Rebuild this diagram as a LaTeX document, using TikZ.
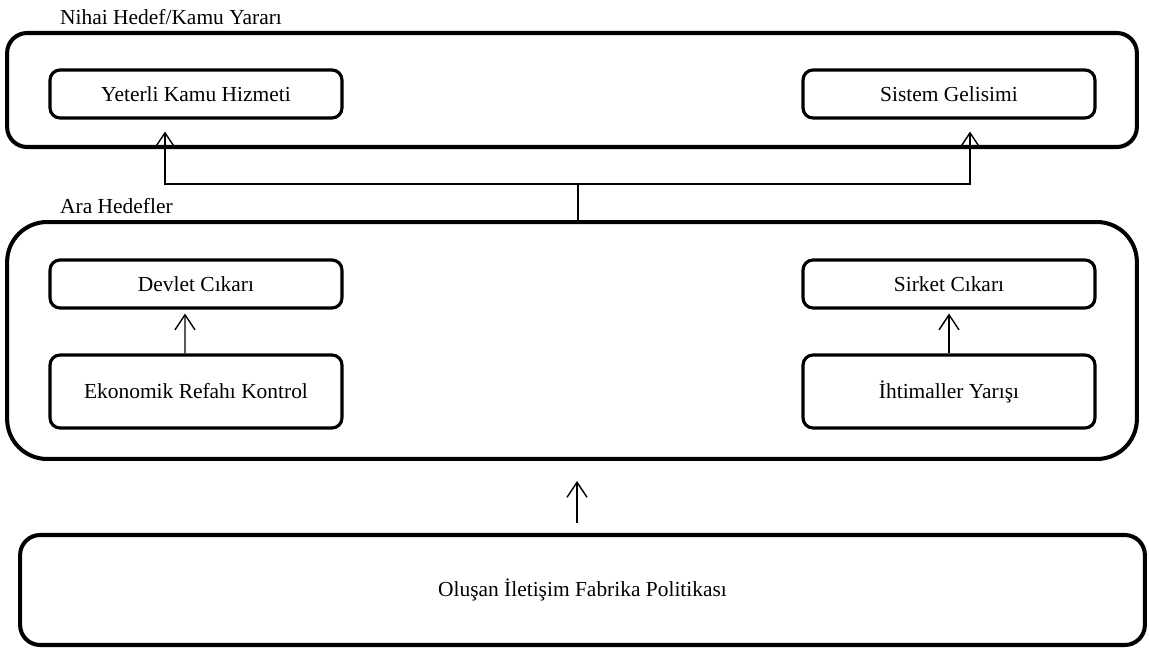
\documentclass[tikz,border=0pt]{standalone}
\usepackage{fontspec}
\setmainfont{Liberation Serif}
\usetikzlibrary{arrows.meta}
\begin{document}
\begin{tikzpicture}[x=0.02cm,y=-0.02cm,font=\fontsize{12.2}{14}\selectfont,
bigbox/.style={draw,line width=2.3pt,rounded corners=0.4cm},
smallbox/.style={draw,line width=1.8pt,rounded corners=0.2cm,minimum width=5.84cm},
link/.style={line width=.8pt,-{Straight Barb[length=0.3cm,width=0.4cm,line width=.8pt]}}]
\useasboundingbox (0,0) rectangle (1149,648);
\node[bigbox,minimum width=22.6cm,minimum height=2.28cm] (nihai) at (572,90) {};
\node[bigbox,rounded corners=0.8cm,minimum width=22.6cm,minimum height=4.74cm] (ara) at (572,340.5) {};
\node[bigbox,minimum width=22.5cm,minimum height=2.2cm] (olusan) at (582.5,590) {Oluşan İletişim Fabrika Politikası};
\node[anchor=base west] (nihailbl) at (54,25) {Nihai Hedef/Kamu Yararı};
\node[anchor=base west] (aralbl) at (54,214) {Ara Hedefler};
\node[smallbox,minimum height=0.96cm] (yeterli) at (196,94) {Yeterli Kamu Hizmeti};
\node[smallbox,minimum height=0.96cm] (sistem) at (949,94) {Sistem Gelisimi};
\node[smallbox,minimum height=0.96cm] (devlet) at (196,284) {Devlet Cıkarı};
\node[smallbox,minimum height=0.96cm] (sirket) at (949,284) {Sirket Cıkarı};
\node[smallbox,minimum height=1.46cm] (ekonomik) at (196,391.5) {Ekonomik Refahı Kontrol};
\node[smallbox,minimum height=1.46cm] (ihtimal) at (949,391.5) {İhtimaller Yarışı};
\coordinate (junc) at (578,184);
\draw[line width=.8pt] (junc) -- (junc |- ara.north);
\draw[link] (junc) -| ([shift={(-31,12)}]yeterli.south);
\draw[link] (junc) -| ([shift={(21,12)}]sistem.south);
\draw[link] ([xshift=-0.22cm]ekonomik.north) -- ([shift={(-11,4)}]devlet.south);
\draw[link] (ihtimal.north) -- ([yshift=-0.08cm]sirket.south);
\draw[link] ([shift={(-5.5,-10)}]olusan.north) -- ([shift={(5,20)}]ara.south);
\end{tikzpicture}
\end{document}
